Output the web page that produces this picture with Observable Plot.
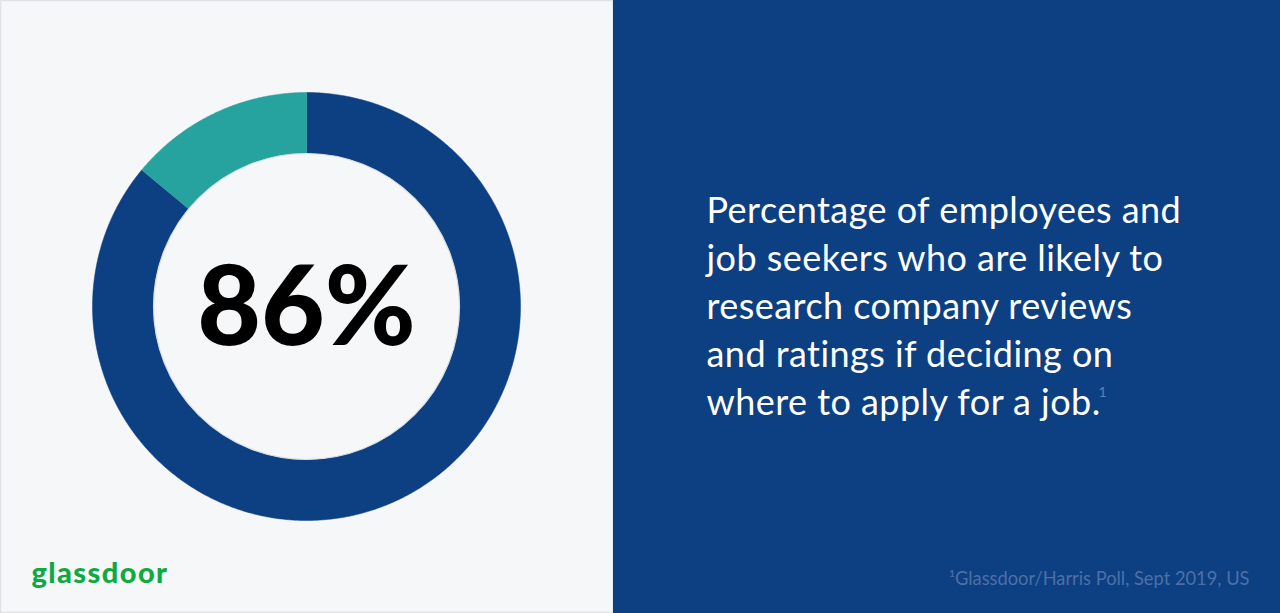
<!DOCTYPE html>
<html>
<head>
<meta charset="utf-8">
<script src="https://cdn.jsdelivr.net/npm/d3@7"></script>
<script src="https://cdn.jsdelivr.net/npm/@observablehq/plot@0.6"></script>
<style>
  html, body { margin: 0; padding: 0; background: #f5f7f9; }
  #chart { width: 1280px; height: 613px; overflow: hidden; }
</style>
</head>
<body>
<div id="chart"></div>
<script>
// ---- data ----
const categories = ["Likely to research reviews", "Not likely"];
const values = [86, 14];
const colors = ["#0d3f83", "#26a29f"];
const headline = "86%";
const descriptionLines = [
  "Percentage of employees and",
  "job seekers who are likely to",
  "research company reviews",
  "and ratings if deciding on",
  "where to apply for a job."
];
const footnote = "¹Glassdoor/Harris Poll, Sept 2019, US";
const brand = "glassdoor";

// ---- layout constants ----
const W = 1280, H = 613;
const cx = 306, cy = 306, rOuter = 214, rInner = 153;

// build arc polygons from the values
const pie = d3.pie().sort(null).value(d => d.value)(categories.map((c, i) => ({cat: c, value: values[i], color: colors[i]})));
const arcPts = [];
pie.forEach(p => {
  const n = Math.max(8, Math.ceil((p.endAngle - p.startAngle) * 120));
  const outer = d3.range(n + 1).map(k => p.startAngle + (p.endAngle - p.startAngle) * k / n);
  outer.forEach(a => arcPts.push({cat: p.data.cat, color: p.data.color, x: cx + rOuter * Math.sin(a), y: cy - rOuter * Math.cos(a)}));
  outer.slice().reverse().forEach(a => arcPts.push({cat: p.data.cat, color: p.data.color, x: cx + rInner * Math.sin(a), y: cy - rInner * Math.cos(a)}));
});

const textLines = descriptionLines.map((t, i) => ({t, i}));

const chart = Plot.plot({
  width: W,
  height: H,
  margin: 0,
  x: {domain: [0, W], range: [0, W], axis: null},
  y: {domain: [0, H], range: [0, H], axis: null},
  style: {background: "#f5f7f9", fontFamily: "Lato, 'Open Sans', sans-serif"},
  marks: [
    // left panel with thin border
    Plot.rect([{x1: 0.5, x2: 613, y1: 0.5, y2: H - 0.5}], {x1: "x1", x2: "x2", y1: "y1", y2: "y2", fill: "#f5f7f9", stroke: "#dfe3e7", strokeWidth: 1.5}),
    // right panel
    Plot.rect([{x1: 613, x2: W, y1: 0, y2: H}], {x1: "x1", x2: "x2", y1: "y1", y2: "y2", fill: "#0d3f83"}),
    // donut slices
    Plot.line(arcPts, {x: "x", y: "y", z: "cat", fill: "color", stroke: "color", strokeWidth: 0.5, curve: "linear"}),
    // inner subtle edge
    Plot.dot([{x: cx, y: cy}], {x: "x", y: "y", r: rInner, fill: "#f5f7f9", stroke: "#d9dde1", strokeWidth: 1.2}),
    // headline
    Plot.text([headline], {x: cx, y: cy + 3, text: d => d, fontSize: 110, fontWeight: 900, fill: "#000", textAnchor: "middle", lineAnchor: "middle"}),
    // description
    Plot.text(textLines, {x: 706, y: d => 222 + d.i * 48, text: "t", fontSize: 36, fill: "#ffffff", textAnchor: "start", lineAnchor: "bottom", fontWeight: 400}),
    // superscript
    Plot.text(["1"], {x: 1098, y: 396, text: d => d, fontSize: 14, fill: "#5d7fb3", textAnchor: "start", lineAnchor: "bottom"}),
    // footnote
    Plot.text([footnote], {x: 1249, y: 584, text: d => d, fontSize: 18.3, fill: "#4c70a8", textAnchor: "end", lineAnchor: "bottom"}),
    // brand
    Plot.text([brand], {x: 31, y: 582, text: d => d, fontSize: 29, fontWeight: 900, fill: "#0caa41", textAnchor: "start", lineAnchor: "bottom", fontFamily: "Lato, sans-serif"})
  ]
});
// letter spacing for description and brand text
const texts = chart.querySelectorAll("text");
texts.forEach(t => {
  if (descriptionLines.includes(t.textContent)) t.style.letterSpacing = "0.45px";
  if (t.textContent === brand) t.style.letterSpacing = "1.4px";
});
document.getElementById("chart").appendChild(chart);
</script>
</body>
</html>
